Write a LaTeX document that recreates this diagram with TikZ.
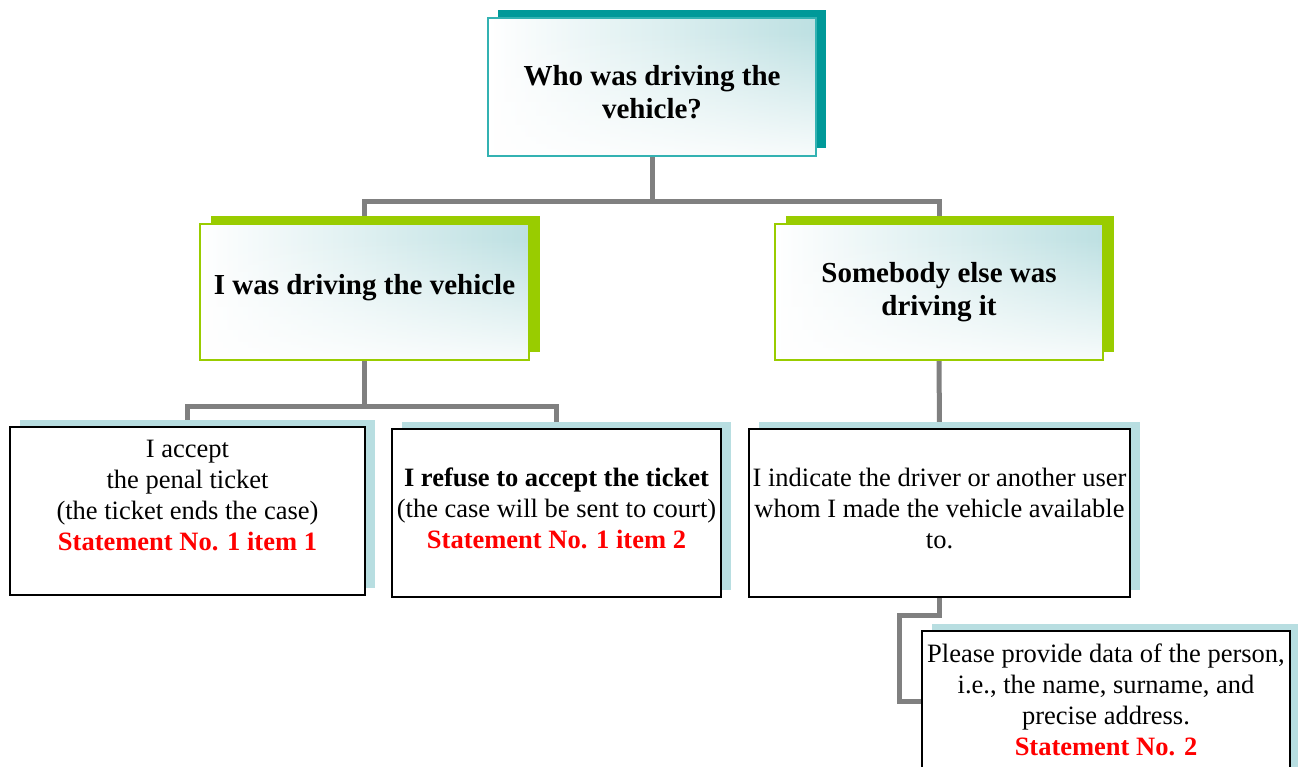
\documentclass[tikz,border=0pt]{standalone}
\usepackage{fontspec}
\setmainfont{Liberation Serif}
\usetikzlibrary{positioning}
\usetikzlibrary{shadows}
\usetikzlibrary{fadings}
\usetikzlibrary{backgrounds}
\definecolor{tealShadow}{RGB}{0,153,153}
\definecolor{tealLine}{RGB}{51,178,178}
\definecolor{limeShadow}{RGB}{153,204,0}
\definecolor{paleShadow}{RGB}{184,222,225}
\definecolor{glowColor}{RGB}{189,224,226}
\definecolor{linkGray}{RGB}{128,128,128}

\begin{document}
\begin{tikzpicture}[x=1pt,y=-1pt]

            \newcommand*\headFont{\fontsize{29}{33.5}\selectfont\bfseries}
            \newcommand*\bodyFont{\fontsize{26.5}{31}\selectfont}
            \newcommand*\statement[1]{{\color{red}\bfseries #1}}

            \tikzstyle{glowFill} = [fill=white, path picture={
                \shade[left color=white, right color=glowColor] (path picture bounding box.south west) rectangle (path picture bounding box.north east);
                \fill[white, path fading=north] ([yshift=-15pt]path picture bounding box.south west) rectangle ([yshift=-14pt]path picture bounding box.north east);
              }];
            \tikzstyle{questionNode} = [glowFill, draw=tealLine, line width=2pt, minimum width=328pt, minimum height=138pt, inner sep=0pt, align=center, font=\headFont, copy shadow={shadow xshift=10pt, shadow yshift=8pt, draw=none, fill=tealShadow}];
            \tikzstyle{choiceNode} = [glowFill, draw=limeShadow, line width=2pt, minimum width=328pt, minimum height=136pt, inner sep=0pt, align=center, font=\headFont, copy shadow={shadow xshift=11pt, shadow yshift=8pt, draw=none, fill=limeShadow}];
            \tikzstyle{outcomeNode} = [fill=white, draw=black, line width=2pt, minimum height=168pt, inner sep=0pt, align=center, font=\bodyFont, copy shadow={shadow xshift=10pt, shadow yshift=7pt, draw=none, fill=paleShadow}];
            \tikzstyle{linkEdge} = [draw=linkGray, line width=5pt];

            \useasboundingbox (0,0) rectangle (1298,766);

            \node[questionNode, text height=64pt] (who) at (652,87) {Who was driving the\\vehicle?};
            \node[choiceNode, minimum width=329pt, text depth=16pt] (me) at (364.5,292) {I was driving the vehicle};
            \node[choiceNode] (other) at (939,292) {Somebody else was\\driving it};

            \node[outcomeNode, minimum width=355pt] (accept) at (187.5,511) {I accept\\the penal ticket\\(the ticket ends the case)\\\statement{Statement No. 1 item 1}\\\mbox{}};
            \node[outcomeNode, minimum width=329pt, text depth=10pt] (refuse) at (556.5,513) {\textbf{I refuse to accept the ticket}\\(the case will be sent to court)\\\statement{Statement No. 1 item 2}};
            \node[outcomeNode, minimum width=381pt, text depth=10pt] (indicate) at (939.5,513) {I indicate the driver or another user\\whom I made the vehicle available\\to.};
            \node[outcomeNode, minimum width=368pt] (data) at (1106,715) {Please provide data of the person,\\i.e., the name, surname, and\\precise address.\\\statement{Statement No. 2}\\\mbox{}};

            \coordinate (bend) at (899,615);

            \begin{scope}[on background layer]
            \draw[linkEdge] (who.south) -- ++(0,44) -| (me.north);
            \draw[linkEdge] (who.south) -- ++(0,44) -| (other.north);
            \draw[linkEdge] (me.south) -- ++(0,45) -| (accept.north);
            \draw[linkEdge] (me.south) -- ++(0,45) -| (refuse.north);
            \draw[linkEdge] (other.south) -- (indicate.north);
            \draw[linkEdge] (indicate.south) |- (bend) |- ([yshift=14pt]data.west);
            \end{scope}
          \end{tikzpicture}
\end{document}
